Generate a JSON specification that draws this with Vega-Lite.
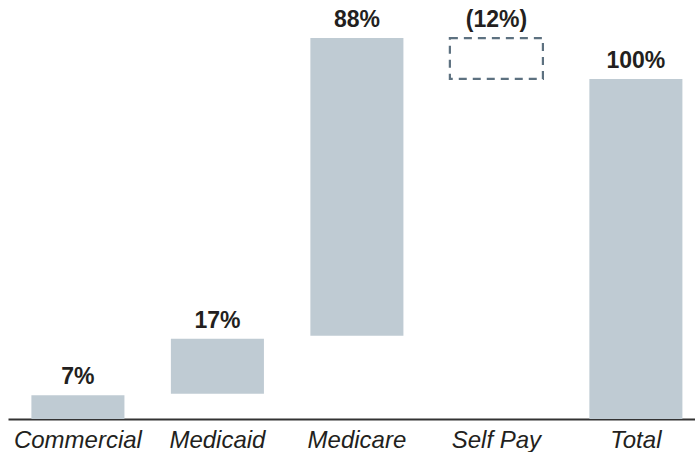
{
  "$schema": "https://vega.github.io/schema/vega-lite/v6.json",
  "width": 687,
  "height": 419,
  "autosize": {"type": "none"},
  "padding": {"left": 8, "top": 0, "right": 0, "bottom": 33},
  "background": "white",
  "config": {"view": {"stroke": null}},
  "data": {
    "values": [
      {"cat": "Commercial", "start": 0, "end": 7, "label": "7%", "kind": "pos"},
      {"cat": "Medicaid", "start": 7.4, "end": 23.6, "label": "17%", "kind": "pos"},
      {"cat": "Medicare", "start": 24.5, "end": 112, "label": "88%", "kind": "pos"},
      {"cat": "Self Pay", "start": 100, "end": 112, "label": "(12%)", "kind": "neg"},
      {"cat": "Total", "start": 0, "end": 100, "label": "100%", "kind": "pos"}
    ]
  },
  "encoding": {
    "x": {
      "field": "cat",
      "type": "nominal",
      "sort": ["Commercial", "Medicaid", "Medicare", "Self Pay", "Total"],
      "scale": {"paddingInner": 0.333, "paddingOuter": 0.129, "align": 0.65},
      "axis": {
        "title": null,
        "labelAngle": 0,
        "ticks": false,
        "labelPadding": 9,
        "labelFont": "Liberation Sans",
        "labelFontStyle": "italic",
        "labelFontSize": 24,
        "labelColor": "#231f20",
        "domainColor": "#333333",
        "domainWidth": 2,
        "grid": false
      }
    }
  },
  "layer": [
    {
      "transform": [{"filter": "datum.kind == 'pos'"}],
      "mark": {"type": "bar", "color": "#bfcbd3"},
      "encoding": {
        "y": {"field": "start", "type": "quantitative", "scale": {"domain": [0, 123.2], "nice": false, "zero": true}, "axis": null},
        "y2": {"field": "end"}
      }
    },
    {
      "transform": [{"filter": "datum.kind == 'neg'"}],
      "mark": {"type": "bar", "fill": "transparent", "stroke": "#5d7180", "strokeWidth": 2.2, "strokeDash": [8, 6]},
      "encoding": {
        "y": {"field": "start", "type": "quantitative"},
        "y2": {"field": "end"}
      }
    },
    {
      "mark": {"type": "text", "baseline": "alphabetic", "dy": -11, "font": "Liberation Sans", "fontWeight": "bold", "fontSize": 23, "color": "#231f20"},
      "encoding": {
        "y": {"field": "end", "type": "quantitative"},
        "text": {"field": "label"}
      }
    }
  ]
}
